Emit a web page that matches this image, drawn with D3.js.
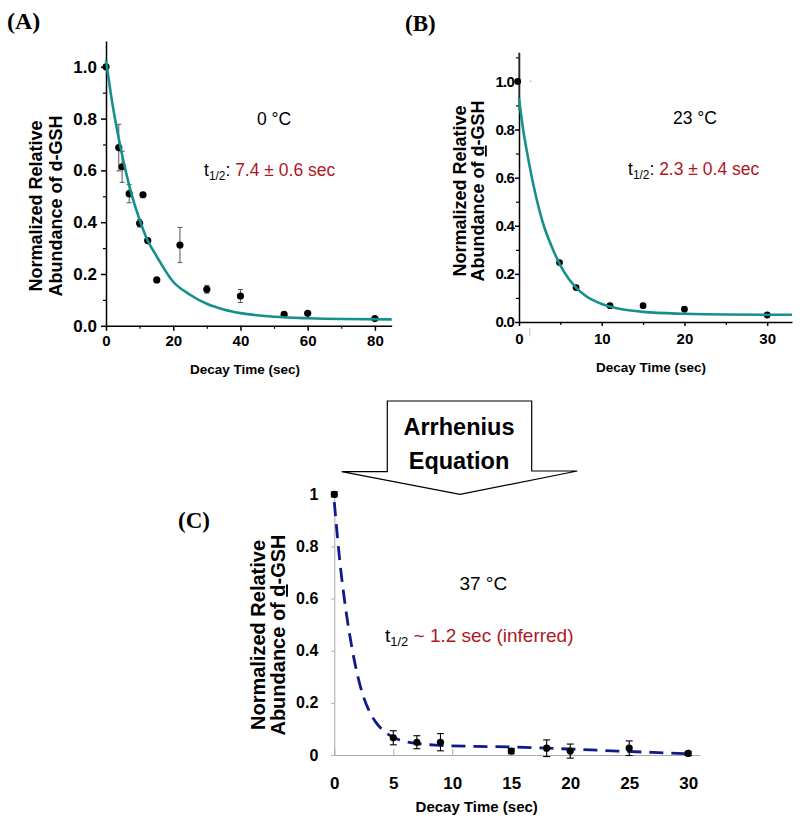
<!DOCTYPE html>
<html>
<head>
<meta charset="utf-8">
<script src="https://cdn.jsdelivr.net/npm/d3@7"></script>
<style>
  html, body { margin: 0; padding: 0; background: #fff; }
  svg { display: block; }
</style>
</head>
<body>
<svg id="fig" width="800" height="824"></svg>
<script>
// ---------------- DATA ----------------
// Panel A (0 °C)
const timeA   = [0, 3.8, 4.8, 6.9, 10.0, 11.0, 12.4, 15.1, 22.0, 30.0, 40.0, 53.0, 60.0, 80.0];
const valueA  = [1.0, 0.688, 0.614, 0.51, 0.396, 0.506, 0.329, 0.177, 0.312, 0.141, 0.115, 0.044, 0.048, 0.028];
const errorA  = [0.0, 0.09, 0.06, 0.035, 0.015, 0.0, 0.008, 0.005, 0.068, 0.015, 0.025, 0.004, 0.004, 0.0];
const fitTimeA  = [0, 2, 4, 6, 8, 10, 12, 15, 20, 25, 30, 35, 40, 50, 60, 70, 85];
const fitValueA = [1.025, 0.85, 0.71, 0.59, 0.49, 0.41, 0.34, 0.27, 0.17, 0.12, 0.085, 0.063, 0.049, 0.035, 0.029, 0.026, 0.025];
const yTicksA = [0, 0.2, 0.4, 0.6, 0.8, 1.0];
const yMinorA = [0.1, 0.3, 0.5, 0.7, 0.9];
const xTicksA = [0, 20, 40, 60, 80];
const xMinorA = [10, 30, 50, 70];

// Panel B (23 °C)
const timeB   = [0, 4.9, 6.9, 11.0, 15.0, 20.0, 30.0];
const valueB  = [1.0, 0.247, 0.143, 0.068, 0.068, 0.053, 0.029];
const errorB  = [0.12, 0.008, 0.006, 0.005, 0.004, 0.004, 0.004];
const fitTimeB  = [0, 0.5, 1, 1.5, 2, 3, 4, 5, 6, 7, 8, 10, 12, 15, 20, 25, 33];
const fitValueB = [0.93, 0.80, 0.70, 0.61, 0.53, 0.40, 0.31, 0.235, 0.18, 0.14, 0.11, 0.075, 0.056, 0.042, 0.034, 0.031, 0.03];
const yTicksB = [0, 0.2, 0.4, 0.6, 0.8, 1.0];
const yMinorB = [0.1, 0.3, 0.5, 0.7, 0.9, 1.1];
const xTicksB = [0, 10, 20, 30];
const xMinorB = [5, 15, 25];

// Panel C (37 °C, inferred)
const timeC   = [0, 5, 7, 9, 15, 18, 20, 25, 30];
const valueC  = [1.0, 0.066, 0.049, 0.049, 0.015, 0.026, 0.015, 0.026, 0.006];
const errorC  = [0.01, 0.027, 0.025, 0.033, 0.01, 0.032, 0.027, 0.028, 0.008];
const fitTimeC  = [0, 0.5, 1, 1.5, 2, 2.5, 3, 3.5, 4, 5, 6, 7, 9, 12, 15, 18, 21, 24, 27, 30];
const fitValueC = [0.97, 0.73, 0.55, 0.41, 0.30, 0.22, 0.165, 0.127, 0.10, 0.068, 0.052, 0.044, 0.037, 0.033, 0.031, 0.026, 0.021, 0.015, 0.010, 0.005];
const yTicksC = [0, 0.2, 0.4, 0.6, 0.8, 1];
const xTicksC = [0, 5, 10, 15, 20, 25, 30];

// Texts
const panelLabels = ["(A)", "(B)", "(C)"];
const tempLabels  = ["0 °C", "23 °C", "37 °C"];
const halfLives   = [": 7.4 ± 0.6 sec", ": 2.3 ± 0.4 sec", " ~ 1.2 sec (inferred)"];
const xTitle = "Decay Time (sec)";
const arrowText = ["Arrhenius", "Equation"];

// ---------------- DRAWING ----------------
const svg = d3.select("#fig");
const SANS = "'Liberation Sans', Arial, Helvetica, sans-serif";
const SERIF = "'Liberation Serif', 'Times New Roman', serif";
const TEAL = "#15908a";
const RED = "#b0161e";
const NAVY = "#0f1b8a";

function styleAxis(g, size, color, width) {
  g.attr("font-family", SANS).attr("font-size", size).attr("font-weight", "bold");
  g.selectAll("text").attr("fill", "#000");
  g.selectAll("path").attr("stroke", color).attr("stroke-width", width);
  g.selectAll("line").attr("stroke", color).attr("stroke-width", width);
}

function yTitle(cx, cy, size, gap, underline) {
  const t = svg.append("text")
    .attr("transform", `translate(${cx},${cy}) rotate(-90)`)
    .attr("text-anchor", "middle")
    .attr("font-family", SANS).attr("font-size", size).attr("font-weight", "bold");
  t.append("tspan").attr("x", 0).attr("dy", 0).text("Normalized Relative");
  const l2 = t.append("tspan").attr("x", 0).attr("dy", gap);
  l2.append("tspan").text("Abundance of ");
  const d = l2.append("tspan").text("d");
  if (underline) d.attr("text-decoration", "underline");
  l2.append("tspan").text("-GSH");
}

function halfLife(x, y, size, rest) {
  const t = svg.append("text").attr("x", x).attr("y", y)
    .attr("font-family", SANS).attr("font-size", size).attr("fill", "#000");
  t.append("tspan").text("t");
  t.append("tspan").attr("font-size", size * 0.68).attr("dy", size * 0.22).text("1/2");
  const isColon = rest.startsWith(":");
  const sep = isColon ? ": " : " ~ ";
  const value = isColon ? rest.slice(2) : rest.slice(3);
  t.append("tspan").attr("dy", -size * 0.22).attr("fill", isColon ? "#000" : RED).text(sep);
  t.append("tspan").attr("fill", RED).text(value);
}

// ---- Panel A ----
{
  const x = d3.scaleLinear().domain([0, 85]).range([106, 391.7]);
  const y = d3.scaleLinear().domain([0, 1.1]).range([325.8, 40.9]);
  const gy = svg.append("g").attr("transform", `translate(106,0)`)
    .call(d3.axisLeft(y).tickValues(yTicksA).tickFormat(d3.format(".1f")).tickSize(5).tickPadding(4).tickSizeOuter(0));
  styleAxis(gy, 17, "#000", 1.5);
  const gym = svg.append("g").attr("transform", `translate(106,0)`)
    .call(d3.axisLeft(y).tickValues(yMinorA).tickFormat("").tickSize(3).tickSizeOuter(0));
  styleAxis(gym, 10, "#000", 1.2);
  gym.select("path").remove();
  const gx = svg.append("g").attr("transform", `translate(0,325.8)`)
    .call(d3.axisBottom(x).tickValues(xTicksA).tickFormat(d3.format("d")).tickSize(5).tickPadding(5).tickSizeOuter(0));
  styleAxis(gx, 15, "#000", 1.5);
  const gxm = svg.append("g").attr("transform", `translate(0,325.8)`)
    .call(d3.axisBottom(x).tickValues(xMinorA).tickFormat("").tickSize(3).tickSizeOuter(0));
  styleAxis(gxm, 10, "#000", 1.2);
  gxm.select("path").remove();

  // error bars
  const eb = svg.append("g").attr("stroke", "#555").attr("stroke-width", 1);
  timeA.forEach((t, i) => {
    if (errorA[i] <= 0) return;
    const cx = x(t), y1 = y(valueA[i] + errorA[i]), y2 = y(valueA[i] - errorA[i]);
    eb.append("line").attr("x1", cx).attr("x2", cx).attr("y1", y1).attr("y2", y2);
    eb.append("line").attr("x1", cx - 2.5).attr("x2", cx + 2.5).attr("y1", y1).attr("y2", y1);
    eb.append("line").attr("x1", cx - 2.5).attr("x2", cx + 2.5).attr("y1", y2).attr("y2", y2);
  });
  svg.append("g").selectAll("circle").data(timeA).join("circle")
    .attr("cx", d => x(d)).attr("cy", (d, i) => y(valueA[i])).attr("r", 3.6).attr("fill", "#000");
  const line = d3.line().x(d => x(d[0])).y(d => y(d[1])).curve(d3.curveMonotoneX);
  svg.append("path").datum(fitTimeA.map((t, i) => [t, fitValueA[i]]))
    .attr("d", line).attr("fill", "none").attr("stroke", TEAL).attr("stroke-width", 2.6);

  svg.append("text").attr("x", 7).attr("y", 29).attr("font-family", SERIF).attr("font-weight", "bold")
    .attr("font-size", 24).text(panelLabels[0]);
  yTitle(42, 206, 18, 20, false);
  svg.append("text").attr("x", 245).attr("y", 374).attr("text-anchor", "middle")
    .attr("font-family", SANS).attr("font-weight", "bold").attr("font-size", 13.5).text(xTitle);
  svg.append("text").attr("x", 274).attr("y", 124.5).attr("text-anchor", "middle")
    .attr("font-family", SANS).attr("font-size", 17.5).text(tempLabels[0]);
  halfLife(204, 176, 17.5, halfLives[0]);
}

// ---- Panel B ----
{
  const x = d3.scaleLinear().domain([0, 33]).range([519, 792]);
  const y = d3.scaleLinear().domain([0, 1.12]).range([322, 52.5]);
  const gy = svg.append("g").attr("transform", `translate(519,0)`)
    .call(d3.axisLeft(y).tickValues(yTicksB).tickFormat(d3.format(".1f")).tickSize(4).tickPadding(1).tickSizeOuter(0));
  styleAxis(gy, 15, "#000", 1.5);
  gy.selectAll("text").attr("letter-spacing", -0.8);
  const gym = svg.append("g").attr("transform", `translate(519,0)`)
    .call(d3.axisLeft(y).tickValues(yMinorB).tickFormat("").tickSize(3).tickSizeOuter(0));
  styleAxis(gym, 10, "#000", 1.2);
  gym.select("path").remove();
  const gx = svg.append("g").attr("transform", `translate(0,322)`)
    .call(d3.axisBottom(x).tickValues(xTicksB).tickFormat(d3.format("d")).tickSize(4).tickPadding(7).tickSizeOuter(0));
  styleAxis(gx, 15, "#000", 1.5);
  const gxm = svg.append("g").attr("transform", `translate(0,322)`)
    .call(d3.axisBottom(x).tickValues(xMinorB).tickFormat("").tickSize(3).tickSizeOuter(0));
  styleAxis(gxm, 10, "#000", 1.2);
  gxm.select("path").remove();

  const eb = svg.append("g").attr("stroke", "#444").attr("stroke-width", 1.2);
  timeB.forEach((t, i) => {
    if (errorB[i] < 0.05) return;
    const cx = x(t), y1 = y(valueB[i] + errorB[i]), y2 = y(valueB[i] - errorB[i]);
    eb.append("line").attr("x1", cx).attr("x2", cx).attr("y1", y1).attr("y2", y2);
  });
  // faint horizontal error marks at t=0
  svg.append("line").attr("x1", x(1.3)).attr("x2", x(1.5)).attr("y1", y(1.0)).attr("y2", y(1.0))
    .attr("stroke", "#bbb").attr("stroke-width", 1.5);
  svg.append("line").attr("x1", x(1.3)).attr("x2", x(1.3)).attr("y1", y(-0.025)).attr("y2", y(-0.06))
    .attr("stroke", "#bbb").attr("stroke-width", 1);
  svg.append("g").selectAll("circle").data(timeB).join("circle")
    .attr("cx", d => x(d) - (d === 0 ? 1.3 : 0)).attr("cy", (d, i) => y(valueB[i])).attr("r", 3.4).attr("fill", "#000");
  const line = d3.line().x(d => x(d[0])).y(d => y(d[1])).curve(d3.curveMonotoneX);
  svg.append("path").datum(fitTimeB.map((t, i) => [t, fitValueB[i]]))
    .attr("d", line).attr("fill", "none").attr("stroke", TEAL).attr("stroke-width", 2.6);

  svg.append("text").attr("x", 405).attr("y", 31).attr("font-family", SERIF).attr("font-weight", "bold")
    .attr("font-size", 23).text(panelLabels[1]);
  yTitle(466, 191, 18, 18, true);
  svg.append("text").attr("x", 651).attr("y", 372).attr("text-anchor", "middle")
    .attr("font-family", SANS).attr("font-weight", "bold").attr("font-size", 13.5).text(xTitle);
  svg.append("text").attr("x", 695).attr("y", 123.5).attr("text-anchor", "middle")
    .attr("font-family", SANS).attr("font-size", 17.5).text(tempLabels[1]);
  halfLife(628, 175, 17.5, halfLives[1]);
}

// ---- Arrow ----
{
  const pts = [[387.3, 401], [531.7, 401], [531.7, 471], [577.3, 471], [460, 494.3], [341.7, 471.7], [387.3, 471.7]];
  svg.append("polygon").attr("points", pts.map(p => p.join(",")).join(" "))
    .attr("fill", "#fff").attr("stroke", "#000").attr("stroke-width", 1.2);
  svg.append("text").attr("x", 459).attr("y", 435).attr("text-anchor", "middle")
    .attr("font-family", SANS).attr("font-weight", "bold").attr("font-size", 23.5).text(arrowText[0]);
  svg.append("text").attr("x", 459).attr("y", 468.5).attr("text-anchor", "middle")
    .attr("font-family", SANS).attr("font-weight", "bold").attr("font-size", 23.5).text(arrowText[1]);
}

// ---- Panel C ----
{
  const x = d3.scaleLinear().domain([0, 31]).range([334.3, 700]);
  const y = d3.scaleLinear().domain([0, 1]).range([755, 494.3]);
  const gy = svg.append("g").attr("transform", `translate(334.3,0)`)
    .call(d3.axisLeft(y).tickValues(yTicksC).tickFormat(d3.format("~g")).tickSize(3).tickPadding(13).tickSizeOuter(0));
  styleAxis(gy, 16, "#aaa", 1);
  const gx = svg.append("g").attr("transform", `translate(0,755)`)
    .call(d3.axisBottom(x).tickValues(xTicksC).tickFormat(d3.format("d")).tickSizeInner(-6).tickPadding(22).tickSizeOuter(0));
  styleAxis(gx, 17, "#aaa", 1);

  const line = d3.line().x(d => x(d[0])).y(d => y(d[1])).curve(d3.curveMonotoneX);
  svg.append("path").datum(fitTimeC.map((t, i) => [t, fitValueC[i]]))
    .attr("d", line).attr("fill", "none").attr("stroke", NAVY).attr("stroke-width", 2.8)
    .attr("stroke-dasharray", "14,8");

  const eb = svg.append("g").attr("stroke", "#000").attr("stroke-width", 1.1);
  timeC.forEach((t, i) => {
    const cx = x(t), y1 = y(valueC[i] + errorC[i]), y2 = y(valueC[i] - errorC[i]);
    eb.append("line").attr("x1", cx).attr("x2", cx).attr("y1", y1).attr("y2", y2);
    eb.append("line").attr("x1", cx - 3.5).attr("x2", cx + 3.5).attr("y1", y1).attr("y2", y1);
    eb.append("line").attr("x1", cx - 3.5).attr("x2", cx + 3.5).attr("y1", y2).attr("y2", y2);
  });
  svg.append("g").selectAll("circle").data(timeC).join("circle")
    .attr("cx", d => x(d)).attr("cy", (d, i) => y(valueC[i])).attr("r", 3.6).attr("fill", "#000");

  svg.append("text").attr("x", 178).attr("y", 528).attr("font-family", SERIF).attr("font-weight", "bold")
    .attr("font-size", 23).text(panelLabels[2]);
  yTitle(265, 635, 20, 20, true);
  svg.append("text").attr("x", 476.7).attr("y", 812).attr("text-anchor", "middle")
    .attr("font-family", SANS).attr("font-weight", "bold").attr("font-size", 15).text(xTitle);
  svg.append("text").attr("x", 483.3).attr("y", 590).attr("text-anchor", "middle")
    .attr("font-family", SANS).attr("font-size", 19).text(tempLabels[2]);
  halfLife(385, 642, 19, halfLives[2]);
}
</script>
</body>
</html>
